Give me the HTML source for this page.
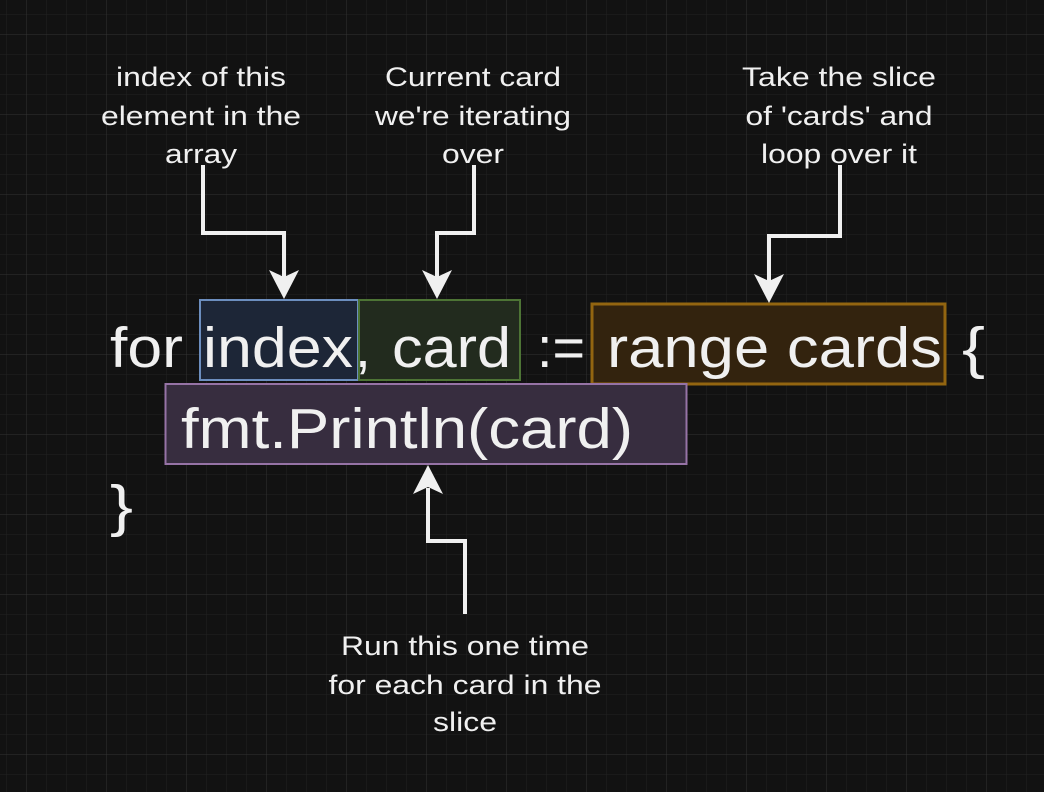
<!DOCTYPE html>
<html><head><meta charset="utf-8"><style>
html,body{margin:0;padding:0;background:#121212;}
svg{display:block;}
text{font-family:"Liberation Sans",Helvetica,Arial,sans-serif;fill:#f0f0f0;}
.lbl{font-size:27px;text-anchor:middle;}
.code{font-size:57px;}
</style></head><body>
<svg width="1044" height="792" viewBox="0 0 1044 792">
<defs>
<pattern id="minor" x="6" y="14" width="20" height="20" patternUnits="userSpaceOnUse"><path d="M0 0H20M0 0V20" stroke="#222" stroke-width="1" fill="none"/></pattern>
<pattern id="major" x="26" y="34" width="80" height="80" patternUnits="userSpaceOnUse"><path d="M0 0H80M0 0V80" stroke="#333" stroke-width="1" fill="none"/></pattern>
</defs>
<rect width="1044" height="792" fill="#121212"/>
<rect width="1044" height="792" fill="url(#minor)"/>
<rect width="1044" height="792" fill="url(#major)"/>

<rect x="200" y="300" width="158" height="80" fill="#1d2637" stroke="#6c8ebf" stroke-width="2"/>
<rect x="359" y="300" width="161" height="80" fill="#222b1e" stroke="#4d7435" stroke-width="2"/>
<rect x="592" y="304" width="353" height="80" fill="#33230e" stroke="#936510" stroke-width="3"/>
<rect x="165.5" y="384" width="521" height="80" fill="#372d3f" stroke="#9673a6" stroke-width="2"/>

<text class="code" x="110" y="367" textLength="73" lengthAdjust="spacingAndGlyphs">for</text>
<text class="code" x="203" y="367" textLength="150" lengthAdjust="spacingAndGlyphs">index</text>
<text class="code" x="355" y="367">,</text>
<text class="code" x="392" y="367" textLength="119" lengthAdjust="spacingAndGlyphs">card</text>
<text class="code" x="537" y="367" textLength="48" lengthAdjust="spacingAndGlyphs">:=</text>
<text class="code" x="607" y="367" textLength="335" lengthAdjust="spacingAndGlyphs">range cards</text>
<text class="code" x="962" y="367" textLength="23" lengthAdjust="spacingAndGlyphs">{</text>
<text class="code" x="181" y="448" textLength="452" lengthAdjust="spacingAndGlyphs">fmt.Println(card)</text>
<text class="code" x="110" y="525" textLength="23" lengthAdjust="spacingAndGlyphs">}</text>

<g>
<text class="lbl" x="201" y="86" textLength="170" lengthAdjust="spacingAndGlyphs">index of this</text>
<text class="lbl" x="201" y="125" textLength="200" lengthAdjust="spacingAndGlyphs">element in the</text>
<text class="lbl" x="201" y="163" textLength="72" lengthAdjust="spacingAndGlyphs">array</text>
</g>
<g>
<text class="lbl" x="473" y="86" textLength="176" lengthAdjust="spacingAndGlyphs">Current card</text>
<text class="lbl" x="473" y="125" textLength="196" lengthAdjust="spacingAndGlyphs">we're iterating</text>
<text class="lbl" x="473" y="163" textLength="62" lengthAdjust="spacingAndGlyphs">over</text>
</g>
<g>
<text class="lbl" x="839" y="86" textLength="194" lengthAdjust="spacingAndGlyphs">Take the slice</text>
<text class="lbl" x="839" y="125" textLength="187" lengthAdjust="spacingAndGlyphs">of 'cards' and</text>
<text class="lbl" x="839" y="163" textLength="156" lengthAdjust="spacingAndGlyphs">loop over it</text>
</g>
<g>
<text class="lbl" x="465" y="655" textLength="248" lengthAdjust="spacingAndGlyphs">Run this one time</text>
<text class="lbl" x="465" y="694" textLength="273" lengthAdjust="spacingAndGlyphs">for each card in the</text>
<text class="lbl" x="465" y="731" textLength="64" lengthAdjust="spacingAndGlyphs">slice</text>
</g>

<g stroke="#f0f0f0" stroke-width="4" fill="none">
<path d="M203 165V233H284V278"/>
<path d="M474 165V233H437V278"/>
<path d="M840 165V236H769V282"/>
<path d="M465 614V541H428V488"/>
</g>
<g fill="#f0f0f0">
<path d="M269 270L284 299L299 270L284 277Z"/>
<path d="M422 270L437 299L452 270L437 277Z"/>
<path d="M754 274L769 303L784 274L769 281Z"/>
<path d="M413 494L428 465L443 494L428 487Z"/>
</g>
</svg>
</body></html>
